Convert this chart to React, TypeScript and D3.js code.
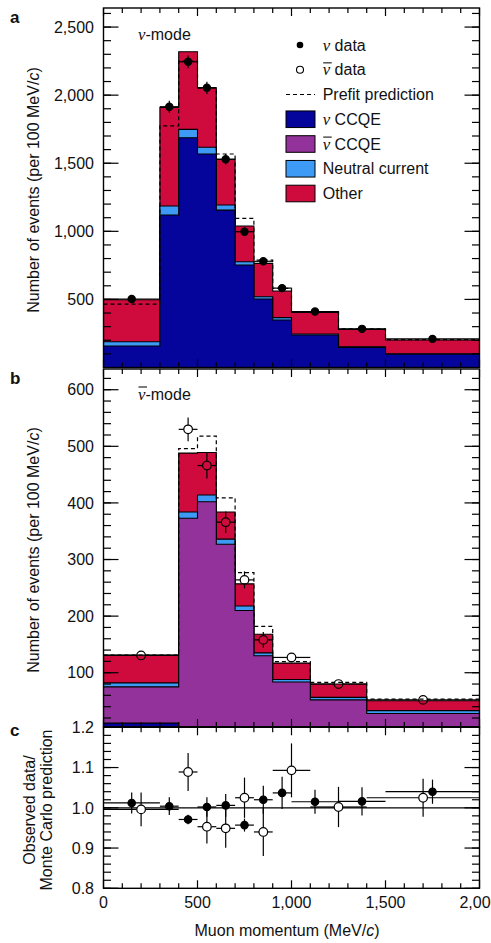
import React from "react";
import * as d3 from "d3";

const W = 491;
const H = 943;

// ---------- ν-mode (panel a) ----------
const nuEdges = [0, 300, 400, 500, 600, 700, 800, 900, 1000, 1250, 1500, 2000];
const nuCCQE_a = [158, 1120, 1687, 1568, 1156, 753, 503, 349, 239, 148, 97];
const nc_a = [31, 66, 62, 49, 37, 24, 17, 17, 7, 4, 4];
const other_a = [308, 724, 570, 437, 336, 262, 245, 196, 159, 128, 101];
const prefit_a = [466, 1775, 2250, 2054, 1568, 1095, 789, 581, 411, 283, 205];
const data_a = [503, 1915, 2245, 2054, 1529, 997, 780, 583, 411, 284, 210];
const err_a = [22, 44, 47, 45, 39, 32, 28, 24, 20, 17, 14];

// ---------- ν̄-mode (panel b) ----------
const nubarEdges = [0, 400, 500, 600, 700, 800, 900, 1100, 1400, 2000];
const nuCCQE_b = [11, 3, 3, 2, 2, 1, 1, 1, 1];
const nubarCCQE_b = [64, 370, 399, 325, 208, 129, 82.5, 51, 27];
const nc_b = [7, 11, 12, 9, 8, 5, 4.5, 4.5, 5];
const other_b = [49, 104, 75, 48, 39, 33, 29, 23.5, 17.5];
const prefit_b = [131, 496, 518, 409, 277, 182, 119.5, 83, 53.5];
const data_b = [130.5, 530, 466, 366, 264, 158, 127, 80, 52];
const err_b = [6, 21, 23, 19, 15, 14, 6, 6, 4];

// ---------- ratio (panel c) ----------
const ratioNu = [1.012, 1.004, 0.971, 1.002, 1.006, 0.957, 1.02, 1.037, 1.015, 1.016, 1.04];
const ratioNuErr = [0.026, 0.022, 0.012, 0.024, 0.028, 0.016, 0.035, 0.04, 0.03, 0.035, 0.03];
const ratioNubar = [0.996, 1.089, 0.953, 0.949, 1.025, 0.94, 1.093, 1.002, 1.025];
const ratioNubarErr = [0.042, 0.047, 0.042, 0.048, 0.05, 0.06, 0.067, 0.05, 0.047];

// ---------- ticks ----------
const xMajor = [0, 500, 1000, 1500, 2000];
const aTicks = [500, 1000, 1500, 2000, 2500];
const bTicks = [100, 200, 300, 400, 500, 600];
const cTicks = [0.8, 0.9, 1.0, 1.1, 1.2];

const COLORS = {
  nuCCQE: "#05059b",
  nubarCCQE: "#93329a",
  nc: "#3d9bf5",
  other: "#cf0a3c",
};

const FONT = "'Liberation Sans', Arial, Helvetica, sans-serif";
const SERIF = "'Liberation Serif', 'Times New Roman', serif";

const X0 = 103.5;
const X1 = 479.5;
const x = d3.scaleLinear().domain([0, 2000]).range([X0, X1]);
const yA = d3.scaleLinear().domain([0, 2640]).range([367.5, 8]);
const yB = d3.scaleLinear().domain([4.1, 636.6]).range([727, 369]);
const yC = d3.scaleLinear().domain([0.8, 1.2]).range([888.3, 727.3]);

type Scale = d3.ScaleLinear<number, number>;

function stepPoints(edges: number[], vals: number[]): [number, number][] {
  return edges.map((e, i) => [e, vals[Math.min(i, vals.length - 1)]] as [number, number]);
}

function stepArea(edges: number[], tops: number[], y: Scale) {
  const base = y.range()[0];
  return d3
    .area<[number, number]>()
    .x((d) => x(d[0]))
    .y0(base)
    .y1((d) => y(d[1]))
    .curve(d3.curveStepAfter)(stepPoints(edges, tops)) as string;
}

function stepLine(edges: number[], vals: number[], y: Scale) {
  return d3
    .line<[number, number]>()
    .x((d) => x(d[0]))
    .y((d) => y(d[1]))
    .curve(d3.curveStepAfter)(stepPoints(edges, vals)) as string;
}

function Stack({ edges, keys, values, y, clip }: { edges: number[]; keys: string[]; values: number[][]; y: Scale; clip: string }) {
  const rows = edges.slice(0, -1).map((_, i) => {
    const r: Record<string, number> = {};
    keys.forEach((k, j) => (r[k] = values[j][i]));
    return r;
  });
  const series = d3.stack<Record<string, number>>().keys(keys)(rows);
  return (
    <g clipPath={`url(#${clip})`}>
      {series
        .slice()
        .reverse()
        .map((s) => (
          <path
            key={s.key}
            d={stepArea(edges, s.map((d) => d[1]), y)}
            fill={(COLORS as any)[s.key]}
            stroke="#000"
            strokeWidth={1.1}
          />
        ))}
    </g>
  );
}

function Frame({ y, top, bottom, major, minor, fmt, labelX }: { y: Scale; top: number; bottom: number; major: number[]; minor: number[]; fmt: (v: number) => string; labelX: boolean }) {
  const xMinor = d3.range(0, 2001, 100);
  const [d0, d1] = y.domain();
  const inDom = (v: number) => v >= Math.min(d0, d1) - 1e-9 && v <= Math.max(d0, d1) + 1e-9;
  return (
    <g stroke="#000" strokeWidth={1.2}>
      {minor.filter(inDom).map((v) => (
        <g key={"mi" + v}>
          <line x1={X0} x2={X0 + 7.5} y1={y(v)} y2={y(v)} />
          <line x1={X1} x2={X1 - 7.5} y1={y(v)} y2={y(v)} />
        </g>
      ))}
      {major.filter(inDom).map((v) => (
        <g key={"ma" + v}>
          <line x1={X0} x2={X0 + 15} y1={y(v)} y2={y(v)} />
          <line x1={X1} x2={X1 - 15} y1={y(v)} y2={y(v)} />
          <text x={94} y={y(v)} dy="0.36em" textAnchor="end" fontFamily={FONT} fontSize={16} stroke="none" fill="#111">
            {fmt(v)}
          </text>
        </g>
      ))}
      {xMinor.map((v) => {
        const len = v % 500 === 0 ? 8 : 5;
        return (
          <g key={"x" + v}>
            <line x1={x(v)} x2={x(v)} y1={top} y2={top + len} />
            <line x1={x(v)} x2={x(v)} y1={bottom} y2={bottom - len} />
          </g>
        );
      })}
      {labelX &&
        xMajor.map((v) => (
          <text key={"xl" + v} x={x(v)} y={908} textAnchor="middle" fontFamily={FONT} fontSize={16} stroke="none" fill="#111">
            {d3.format(",")(v)}
          </text>
        ))}
      <rect x={X0} y={top} width={X1 - X0} height={bottom - top} fill="none" strokeWidth={1.4} />
    </g>
  );
}

function FilledPoints({ edges, vals, errs, y, r }: { edges: number[]; vals: number[]; errs: number[]; y: Scale; r: number }) {
  return (
    <g stroke="#000" strokeWidth={1.2}>
      {vals.map((v, i) => {
        const cx = x((edges[i] + edges[i + 1]) / 2);
        const cy = y(v);
        return (
          <g key={i}>
            <line x1={x(edges[i])} x2={x(edges[i + 1])} y1={cy} y2={cy} />
            <line x1={cx} x2={cx} y1={y(v - errs[i])} y2={y(v + errs[i])} />
            <circle cx={cx} cy={cy} r={r} fill="#000" />
          </g>
        );
      })}
    </g>
  );
}

function OpenPoints({ edges, vals, errs, y, r, fill }: { edges: number[]; vals: number[]; errs: number[]; y: Scale; r: number; fill: string }) {
  return (
    <g stroke="#000" strokeWidth={1.2}>
      {vals.map((v, i) => {
        const cx = x((edges[i] + edges[i + 1]) / 2);
        const cy = y(v);
        const yt = y(v + errs[i]);
        const yb = y(v - errs[i]);
        return (
          <g key={i}>
            <line x1={x(edges[i])} x2={cx - r} y1={cy} y2={cy} />
            <line x1={cx + r} x2={x(edges[i + 1])} y1={cy} y2={cy} />
            {yt < cy - r && <line x1={cx} x2={cx} y1={yt} y2={cy - r} />}
            {yb > cy + r && <line x1={cx} x2={cx} y1={cy + r} y2={yb} />}
            <circle cx={cx} cy={cy} r={r} fill={fill} />
          </g>
        );
      })}
    </g>
  );
}

function NuText({ x0, y0, bar, rest, size = 16 }: { x0: number; y0: number; bar: boolean; rest: string; size?: number }) {
  return (
    <g>
      <text x={x0} y={y0} fontFamily={FONT} fontSize={size} fill="#111">
        <tspan fontFamily={SERIF} fontStyle="italic" fontSize={size * 1.05}>
          ν
        </tspan>
        <tspan>{rest}</tspan>
      </text>
      {bar && <line x1={x0 + 0.5} x2={x0 + 9} y1={y0 - 12.5} y2={y0 - 12.5} stroke="#111" strokeWidth={1.1} />}
    </g>
  );
}

function Legend() {
  const rowY = (i: number) => 45 + 24.75 * i;
  const tx = 322.7;
  const base = (i: number) => rowY(i) + 5.6;
  const boxes: [string, boolean, string][] = [
    ["nuCCQE", false, " CCQE"],
    ["nubarCCQE", true, " CCQE"],
  ];
  return (
    <g>
      <circle cx={300} cy={rowY(0)} r={3.3} fill="#000" />
      <NuText x0={tx} y0={base(0)} bar={false} rest=" data" />
      <circle cx={300} cy={rowY(1)} r={3.5} fill="#fff" stroke="#000" strokeWidth={1.1} />
      <NuText x0={tx} y0={base(1)} bar={true} rest=" data" />
      <line x1={286} x2={315} y1={rowY(2)} y2={rowY(2)} stroke="#000" strokeWidth={1.2} strokeDasharray="4,3" />
      <text x={tx} y={base(2)} fontFamily={FONT} fontSize={16} fill="#111">
        Prefit prediction
      </text>
      {boxes.map(([k, bar, rest], j) => (
        <g key={k}>
          <rect x={286} y={rowY(3 + j) - 8.3} width={29} height={16.6} fill={(COLORS as any)[k]} stroke="#000" strokeWidth={1} />
          <NuText x0={tx} y0={base(3 + j)} bar={bar} rest={rest} />
        </g>
      ))}
      <rect x={286} y={rowY(5) - 8.3} width={29} height={16.6} fill={COLORS.nc} stroke="#000" strokeWidth={1} />
      <text x={tx} y={base(5)} fontFamily={FONT} fontSize={16} fill="#111">
        Neutral current
      </text>
      <rect x={286} y={rowY(6) - 8.3} width={29} height={16.6} fill={COLORS.other} stroke="#000" strokeWidth={1} />
      <text x={tx} y={base(6)} fontFamily={FONT} fontSize={16} fill="#111">
        Other
      </text>
    </g>
  );
}

function YTitle({ cx, cy, lines }: { cx: number[]; cy: number; lines: React.ReactNode[] }) {
  return (
    <g>
      {lines.map((l, i) => (
        <text key={i} transform={`translate(${cx[i]},${cy}) rotate(-90)`} textAnchor="middle" fontFamily={FONT} fontSize={16} fill="#111">
          {l}
        </text>
      ))}
    </g>
  );
}

export default function App() {
  const minorA = d3.range(100, 2640, 100);
  const minorB = d3.range(20, 637, 20);
  const minorC = d3.range(0, 21).map((i) => +(0.8 + i * 0.02).toFixed(2));
  const nevTitle = (
    <>
      Number of events (per 100 MeV/<tspan fontStyle="italic">c</tspan>)
    </>
  );
  return (
    <svg width={W} height={H} style={{ position: "absolute", left: 0, top: 0, background: "#fff" }}>
      <defs>
        <clipPath id="clipA">
          <rect x={X0} y={yA.range()[1]} width={X1 - X0} height={yA.range()[0] - yA.range()[1]} />
        </clipPath>
        <clipPath id="clipB">
          <rect x={X0} y={yB.range()[1]} width={X1 - X0} height={yB.range()[0] - yB.range()[1]} />
        </clipPath>
      </defs>
      <rect x={0} y={0} width={W} height={H} fill="#fff" />

      {/* Panel a */}
      <Stack edges={nuEdges} keys={["nuCCQE", "nc", "other"]} values={[nuCCQE_a, nc_a, other_a]} y={yA} clip="clipA" />
      <g clipPath="url(#clipA)">
        <path d={stepLine(nuEdges, prefit_a, yA)} fill="none" stroke="#000" strokeWidth={1.2} strokeDasharray="4,3" />
      </g>
      <FilledPoints edges={nuEdges} vals={data_a} errs={err_a} y={yA} r={3.6} />
      <Frame y={yA} top={8} bottom={367.5} major={aTicks} minor={minorA} fmt={d3.format(",")} labelX={false} />

      {/* Panel b */}
      <Stack edges={nubarEdges} keys={["nuCCQE", "nubarCCQE", "nc", "other"]} values={[nuCCQE_b, nubarCCQE_b, nc_b, other_b]} y={yB} clip="clipB" />
      <g clipPath="url(#clipB)">
        <path d={stepLine(nubarEdges, prefit_b, yB)} fill="none" stroke="#000" strokeWidth={1.2} strokeDasharray="4,3" />
      </g>
      <OpenPoints edges={nubarEdges} vals={data_b} errs={err_b} y={yB} r={4.3} fill="none" />
      <Frame y={yB} top={369} bottom={727} major={bTicks} minor={minorB} fmt={d3.format(",")} labelX={false} />

      {/* Panel c */}
      <line x1={X0} x2={X1} y1={yC(1)} y2={yC(1)} stroke="#000" strokeWidth={1.2} />
      <FilledPoints edges={nuEdges} vals={ratioNu} errs={ratioNuErr} y={yC} r={3.7} />
      <OpenPoints edges={nubarEdges} vals={ratioNubar} errs={ratioNubarErr} y={yC} r={4.3} fill="#fff" />
      <Frame y={yC} top={727.3} bottom={888.3} major={cTicks} minor={minorC} fmt={d3.format(".1f")} labelX={true} />

      {/* Labels */}
      <Legend />
      <NuText x0={138} y0={39.5} bar={false} rest="-mode" />
      <NuText x0={138} y0={399.5} bar={true} rest="-mode" />

      <text x={10} y={23} fontFamily={FONT} fontWeight="bold" fontSize={17} fill="#111">a</text>
      <text x={10} y={384} fontFamily={FONT} fontWeight="bold" fontSize={17} fill="#111">b</text>
      <text x={10} y={736} fontFamily={FONT} fontWeight="bold" fontSize={17} fill="#111">c</text>

      <YTitle cx={[39]} cy={190} lines={[nevTitle]} />
      <YTitle cx={[39]} cy={550} lines={[nevTitle]} />
      <YTitle cx={[35, 52]} cy={810} lines={["Observed data/", "Monte Carlo prediction"]} />

      <text x={287} y={936} textAnchor="middle" fontFamily={FONT} fontSize={16} fill="#111">
        Muon momentum (MeV/<tspan fontStyle="italic">c</tspan>)
      </text>
    </svg>
  );
}
